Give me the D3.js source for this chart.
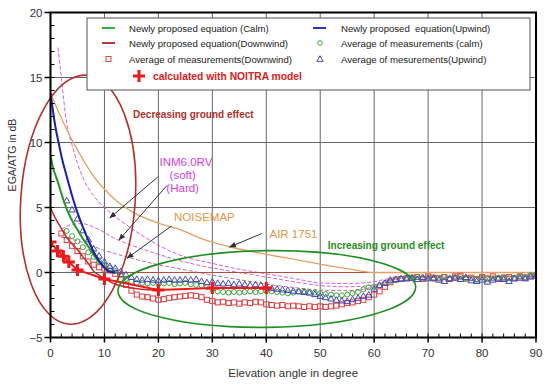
<!DOCTYPE html>
<html><head><meta charset="utf-8">
<script src="https://cdn.jsdelivr.net/npm/d3@7"></script>
<style>
body{margin:0;background:#fff}
svg{display:block}
text{font-family:Arial,"Liberation Sans",sans-serif}
</style>
</head><body>
<svg id="chart" width="550" height="386"></svg>
<script>
// ---------------- DATA ----------------
const xTicks = [0,10,20,30,40,50,60,70,80,90];
const yTicks = [-5,0,5,10,15,20];

// Newly proposed equations
const calmEqX = [0,0.5,1,1.5,2,3,4,5,6,7,8,9,10,11,12];
const calmEqY = [9.0,8.0,7.4,6.8,6.1,4.9,4.0,3.3,2.6,2.0,1.35,0.8,0.4,0.1,0];
const upwindEqX = [0,0.5,1,1.5,2,3,4,5,6,7,8,9,10,11,12];
const upwindEqY = [13.8,12.3,11.0,10.0,9.0,7.4,5.9,4.6,3.5,2.5,1.6,0.9,0.35,0.05,0];
const downwindEqX = [0,1,2,3,4,5,6,7,8,9,10,11,12,14,16,18,20];
const downwindEqY = [5.0,4.1,3.4,2.7,2.2,1.75,1.2,0.7,0.1,-0.2,-0.45,-0.7,-0.9,-1.1,-1.25,-1.32,-1.35];
const zeroRefX = [11,90];
const zeroRefY = [0,0];

// Other models
const air1751X = [0,1,2,3,4,6,8,10,12,15,20,24,28,33,40,46,50,55,60,90];
const air1751Y = [13.8,12.8,11.9,11.0,10.2,8.7,7.4,6.4,5.6,4.7,3.8,3.3,2.6,2.0,1.4,0.95,0.65,0.3,0,0];
const inmSoftX = [1.4,2,3,4,5,6,8,10,12,15,20,25,30,35,40,45,50,55,60,63,66,70,80,90];
const inmSoftY = [17.3,15,11.5,9.8,8.4,7.3,5.9,5.0,4.3,3.4,2.1,1.2,0.7,0.25,-0.1,-0.45,-0.8,-0.85,-0.7,-0.45,-0.35,-0.3,-0.3,-0.25];
const inmHardX = [2,3,4,5,6,7,9,12,15,20,25,30,35,40,45,50,55,60,63,66,70,80,90];
const inmHardY = [3.3,3.55,3.7,3.75,3.75,3.65,3.3,2.6,2.1,1.4,0.8,0.35,0.0,-0.35,-0.7,-1.0,-1.1,-0.95,-0.6,-0.4,-0.35,-0.35,-0.3];
const noisemapX = [2,4,6,8,10,12,15,20,25,30,35,40,45,50,55,60,63,66,70,80,90];
const noisemapY = [2.7,2.55,2.3,2.0,1.7,1.45,1.1,0.6,0.2,-0.2,-0.55,-0.9,-1.15,-1.35,-1.4,-1.1,-0.65,-0.45,-0.4,-0.35,-0.3];

// NOITRA model
const noitraX = [0,1.3,2.4,3.4,5,10,20,30,40];
const noitraY = [2.35,1.65,1.25,0.8,0.2,-0.5,-1.35,-1.2,-1.2];

// Measurements (one value per degree)
const calmStart = 3;
const calmMeas = [3.2,2.8,2.4,1.95,1.55,1.2,0.85,0.6,0.35,0.1,
  -0.2,-0.5,-0.7,-0.8,-0.8,-0.85,-0.8,-0.9,-0.85,-0.8,
  -0.9,-0.85,-0.8,-0.9,-0.95,-1.0,-1.1,-1.3,-1.45,-1.5,
  -1.55,-1.5,-1.55,-1.5,-1.45,-1.5,-1.45,-1.4,-1.45,-1.5,
  -1.55,-1.6,-1.55,-1.45,-1.45,-1.5,-1.55,-1.6,-1.65,-1.7,
  -1.75,-1.75,-1.7,-1.6,-1.5,-1.3,-1.15,-1.1,-1.0,-0.8,
  -0.65,-0.6,-0.5,
  -0.4,-0.45,-0.35,-0.45,-0.4,-0.5,-0.4,-0.35,-0.45,-0.4,-0.35,-0.5,-0.45,-0.55,-0.4,-0.5,-0.45,-0.4,-0.35,-0.45,-0.4,-0.3,-0.35,-0.2,-0.2];
const upwindStart = 3;
const upwindMeas = [5.5,4.8,4.1,3.2,2.5,1.8,1.25,0.8,0.45,0.3,
  0.05,-0.2,-0.4,-0.55,-0.6,-0.55,-0.6,-0.65,-0.6,-0.55,
  -0.6,-0.6,-0.55,-0.6,-0.55,-0.7,-0.8,-0.75,-0.85,-0.9,
  -0.85,-0.95,-0.9,-0.95,-1.0,-0.95,-1.0,-1.15,-1.25,-1.3,
  -1.35,-1.4,-1.45,-1.5,-1.55,-1.6,-1.7,-1.85,-1.95,-2.05,
  -2.15,-2.2,-2.25,-2.1,-2.0,-1.85,-1.75,-1.3,-1.0,-0.85,
  -0.6,-0.55,-0.5,
  -0.5,-0.45,-0.55,-0.4,-0.5,-0.45,-0.6,-0.7,-0.5,-0.45,-0.55,-0.4,-0.65,-0.7,-0.6,-0.75,-0.6,-0.5,-0.55,-0.7,-0.5,-0.45,-0.5,-0.35,-0.3];
const downwindStart = 2;
const downwindMeas = [3.0,2.5,2.05,1.65,1.25,0.85,0.6,0.4,0.3,0.15,
  -0.1,-0.5,-0.95,-1.4,-1.7,-1.85,-1.9,-2.0,-2.1,-2.05,
  -1.95,-1.9,-1.85,-1.8,-1.75,-1.8,-1.9,-2.1,-2.2,-2.3,
  -2.25,-2.35,-2.3,-2.4,-2.3,-2.35,-2.25,-2.3,-2.45,-2.5,
  -2.55,-2.5,-2.6,-2.55,-2.6,-2.65,-2.6,-2.65,-2.6,-2.65,
  -2.6,-2.55,-2.45,-2.35,-2.3,-2.2,-2.1,-1.9,-1.7,-1.45,
  -1.1,-0.75,-0.55,-0.5,
  -0.45,-0.4,-0.35,-0.5,-0.3,-0.4,-0.45,-0.35,-0.5,-0.3,-0.25,-0.45,-0.4,-0.5,-0.35,-0.45,-0.3,-0.5,-0.4,-0.35,-0.45,-0.3,-0.4,-0.3,-0.25];

// Legend / annotation texts
const legendLeft = ["Newly proposed equation (Calm)","Newly proposed equation(Downwind)","Average of measurements(Downwind)"];
const legendRight = ["Newly proposed  equation(Upwind)","Average of measurements (calm)","Average of mesurements(Upwind)"];
const legendNoitra = "calculated with NOITRA model";

// ---------------- CHART ----------------
const svg = d3.select("#chart");
const x = d3.scaleLinear().domain([0,90]).range([50.5,536]);
const y = d3.scaleLinear().domain([-5,20]).range([337.5,12.5]);
const pts = (xs,ys)=>xs.map((v,i)=>[v,ys[i]]);
const meas = (start,vals)=>vals.map((v,i)=>[start+i,v]);

svg.append("defs").append("clipPath").attr("id","plot")
  .append("rect").attr("x",x(0)).attr("y",y(20)).attr("width",x(90)-x(0)).attr("height",y(-5)-y(20));
svg.append("defs").append("marker").attr("id","arr")
  .attr("viewBox","0 0 10 10").attr("refX",9).attr("refY",5)
  .attr("markerWidth",7).attr("markerHeight",7).attr("orient","auto")
  .append("path").attr("d","M0,1 L10,5 L0,9 z").attr("fill","#333");

// grid
const g = svg.append("g");
g.selectAll(".gx").data(xTicks.slice(1,-1)).join("line")
  .attr("x1",d=>x(d)).attr("x2",d=>x(d)).attr("y1",y(20)).attr("y2",y(-5))
  .attr("stroke","#666").attr("stroke-width",1);
g.selectAll(".gy").data(yTicks.slice(1,-1)).join("line")
  .attr("y1",d=>y(d)).attr("y2",d=>y(d)).attr("x1",x(0)).attr("x2",x(90))
  .attr("stroke","#666").attr("stroke-width",1);

const plot = svg.append("g").attr("clip-path","url(#plot)");
const line = d3.line().x(d=>x(d[0])).y(d=>y(d[1])).curve(d3.curveMonotoneX);
const straight = d3.line().x(d=>x(d[0])).y(d=>y(d[1]));

function curve(data, color, width, dash){
  plot.append("path").attr("d",line(data)).attr("fill","none")
    .attr("stroke",color).attr("stroke-width",width)
    .attr("stroke-dasharray",dash||null);
}
curve(pts(noisemapX,noisemapY),"#c2708e",1,"4,2");
curve(pts(inmHardX,inmHardY),"#cc6acc",1,"4,2");
curve(pts(inmSoftX,inmSoftY),"#dd5cdd",1,"4,2");
curve(pts(zeroRefX,zeroRefY),"#b0503c",1.2);
curve(pts(air1751X,air1751Y),"#e6a064",1.3);

// measurements
plot.selectAll(".sq").data(meas(downwindStart,downwindMeas)).join("rect")
  .attr("x",d=>x(d[0])-2.5).attr("y",d=>y(d[1])-2.5).attr("width",5).attr("height",5)
  .attr("fill","none").attr("stroke","#e04040").attr("stroke-width",1);
plot.selectAll(".ci").data(meas(calmStart,calmMeas)).join("circle")
  .attr("cx",d=>x(d[0])).attr("cy",d=>y(d[1])).attr("r",2.5)
  .attr("fill","none").attr("stroke","#3ea33e").attr("stroke-width",1);
const tri = d3.symbol().type(d3.symbolTriangle).size(18);
plot.selectAll(".tr").data(meas(upwindStart,upwindMeas)).join("path")
  .attr("d",tri).attr("transform",d=>`translate(${x(d[0])},${y(d[1])})`)
  .attr("fill","none").attr("stroke","#4646c0").attr("stroke-width",1);

// equations
curve(pts(downwindEqX,downwindEqY),"#c42a2a",1.5);
curve(pts(calmEqX,calmEqY),"#1f9a1f",2);
curve(pts(upwindEqX,upwindEqY),"#1c1cb0",2);

// NOITRA
plot.append("path").attr("d",straight(pts(noitraX,noitraY))).attr("fill","none")
  .attr("stroke","#f01818").attr("stroke-width",2);
const cross = s=>`M${-s},0H${s}M0,${-s}V${s}`;
plot.selectAll(".cr").data(pts(noitraX,noitraY)).join("path")
  .attr("d",cross(6)).attr("transform",d=>`translate(${x(d[0])},${y(d[1])})`)
  .attr("stroke","#f01818").attr("stroke-width",3).attr("fill","none");

// ellipses (annotations, in data units)
function ellipse(cxD,cyD,rxD,ryD,rot,color){
  svg.append("ellipse").attr("cx",0).attr("cy",0)
    .attr("rx",x(rxD)-x(0)).attr("ry",y(0)-y(ryD))
    .attr("transform",`translate(${x(cxD)},${y(cyD)}) rotate(${rot})`)
    .attr("fill","none").attr("stroke",color).attr("stroke-width",1.6);
}
ellipse(5.1,5.6,10.6,9.6,4,"#b3302c");
ellipse(40.1,-1.27,27.6,2.95,-0.8,"#1f8f22");

// arrows
function arrow(x1,y1,x2,y2){
  svg.append("line").attr("x1",x(x1)).attr("y1",y(y1)).attr("x2",x(x2)).attr("y2",y(y2))
    .attr("stroke","#333").attr("stroke-width",1).attr("marker-end","url(#arr)");
}
arrow(19.9,7.35,11.0,4.2);
arrow(21.6,6.7,12.7,2.5);
arrow(22.5,3.6,14.2,1.1);
arrow(39.2,3.0,33.2,1.96);

// annotation texts
function label(t,xd,yd,color,size,weight,anchor){
  svg.append("text").attr("x",x(xd)).attr("y",y(yd)).text(t)
    .attr("fill",color).attr("font-size",size).attr("font-weight",weight||"normal")
    .attr("text-anchor",anchor||"start");
}
label("Decreasing ground effect",15.3,11.9,"#b3302c",10,"bold");
label("INM6.0RV",25.1,8.2,"#d23fd2",11.5,"normal","middle");
label("(soft)",24.5,7.2,"#d23fd2",11.5,"normal","middle");
label("(Hard)",24.5,6.2,"#d23fd2",11.5,"normal","middle");
label("NOISEMAP",22.9,3.96,"#e3964a",11.5);
label("AIR 1751",40.6,2.65,"#e3964a",11.5);
label("Increasing ground effect",51.4,1.8,"#1f8f22",10,"bold");

// frame
svg.append("rect").attr("x",x(0)).attr("y",y(20)).attr("width",x(90)-x(0)).attr("height",y(-5)-y(20))
  .attr("fill","none").attr("stroke","#000").attr("stroke-width",2);

// ticks
const minorX = d3.range(0,91,2), minorY = d3.range(-5,21,1);
svg.selectAll(".mx").data(minorX).join("line")
  .attr("x1",d=>x(d)).attr("x2",d=>x(d)).attr("y1",y(-5)).attr("y2",y(-5)-4)
  .attr("stroke","#000").attr("stroke-width",1);
svg.selectAll(".Mx").data(xTicks).join("line")
  .attr("x1",d=>x(d)).attr("x2",d=>x(d)).attr("y1",y(-5)).attr("y2",y(-5)+5)
  .attr("stroke","#000").attr("stroke-width",1.5);
svg.selectAll(".my").data(minorY).join("line")
  .attr("x1",x(0)).attr("x2",x(0)+4).attr("y1",d=>y(d)).attr("y2",d=>y(d))
  .attr("stroke","#000").attr("stroke-width",1);
svg.selectAll(".My").data(yTicks).join("line")
  .attr("x1",x(0)-6).attr("x2",x(0)).attr("y1",d=>y(d)).attr("y2",d=>y(d))
  .attr("stroke","#000").attr("stroke-width",1.5);

svg.selectAll(".lx").data(xTicks).join("text")
  .attr("x",d=>x(d)).attr("y",y(-5)+19).attr("text-anchor","middle")
  .attr("font-size",11.5).attr("fill","#333").text(d=>d);
svg.selectAll(".ly").data(yTicks).join("text")
  .attr("x",x(0)-8).attr("y",d=>y(d)+4).attr("text-anchor","end")
  .attr("font-size",11.5).attr("fill","#333").text(d=>d<0?"\u2212"+Math.abs(d):d);

svg.append("text").attr("x",(x(0)+x(90))/2).attr("y",377).attr("text-anchor","middle")
  .attr("font-size",11.5).attr("fill","#333").text("Elevation angle in degree");
svg.append("text").attr("transform","translate(16,155) rotate(-90)").attr("text-anchor","middle")
  .attr("font-size",10.5).attr("fill","#333").text("EGA/ATG in dB");

// legend
const lg = svg.append("g");
lg.append("rect").attr("x",87).attr("y",18).attr("width",443).attr("height",72)
  .attr("fill","#fff").attr("stroke","#555").attr("stroke-width",1);
const rows = [31.5,46.5,62.5];
const leftSym = [
  s=>s.append("line").attr("x1",102).attr("x2",115).attr("stroke","#3aaa3a").attr("stroke-width",2),
  s=>s.append("line").attr("x1",102).attr("x2",115).attr("stroke","#c03a3a").attr("stroke-width",2),
  s=>s.append("rect").attr("x",106).attr("y",-2.5).attr("width",5).attr("height",5).attr("fill","none").attr("stroke","#e04040")
];
const rightSym = [
  s=>s.append("line").attr("x1",313).attr("x2",326).attr("stroke","#3434b0").attr("stroke-width",2),
  s=>s.append("circle").attr("cx",320).attr("cy",0).attr("r",2.3).attr("fill","none").attr("stroke","#3ea33e"),
  s=>s.append("path").attr("d",tri).attr("transform","translate(320,0.5)").attr("fill","none").attr("stroke","#4646c0")
];
legendLeft.forEach((t,i)=>{
  const r = lg.append("g").attr("transform",`translate(0,${rows[i]-3.5})`);
  leftSym[i](r);
  r.append("text").attr("x",129).attr("y",3.5).attr("font-size",9.6).attr("fill","#222")
    .style("white-space","pre").text(t);
});
legendRight.forEach((t,i)=>{
  const r = lg.append("g").attr("transform",`translate(0,${rows[i]-3.5})`);
  rightSym[i](r);
  r.append("text").attr("x",341).attr("y",3.5).attr("font-size",9.6).attr("fill","#222")
    .style("white-space","pre").text(t);
});
lg.append("path").attr("d",cross(6)).attr("transform","translate(139,76)")
  .attr("stroke","#f01818").attr("stroke-width",3).attr("fill","none");
lg.append("text").attr("x",153).attr("y",79.5).attr("font-size",10.3).attr("font-weight","bold")
  .attr("fill","#e02020").text(legendNoitra);
</script>
</body></html>
